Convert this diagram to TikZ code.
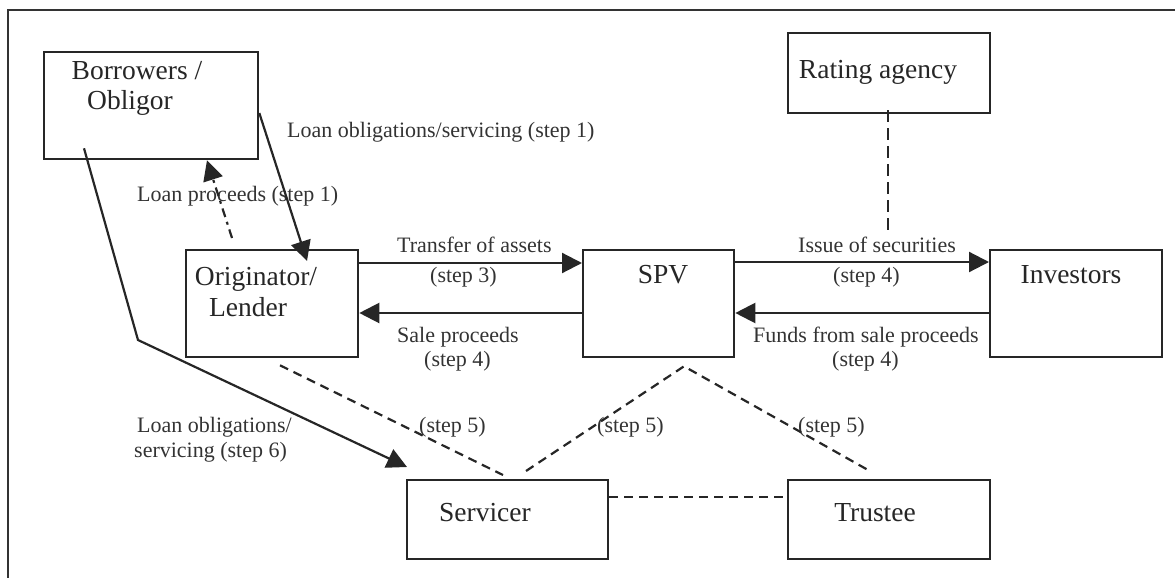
\documentclass[tikz,border=0pt]{standalone}
\usepackage{fontspec}
\setmainfont{Liberation Serif}
\usetikzlibrary{arrows.meta}
\begin{document}
\begin{tikzpicture}[x=1pt,y=-1pt,
  box/.style={draw=black!85,line width=2.3pt,rectangle,inner sep=0pt,anchor=north west},
  boxtext/.style={inner sep=0pt,anchor=base,text=black!85,font=\fontsize{27.5}{30}\selectfont},
  lbl/.style={inner sep=0pt,anchor=base west,text=black!80,font=\fontsize{22}{24}\selectfont},
  arr/.style={draw=black!85,line width=2.2pt,-{Triangle[length=20pt,width=20pt]}},
  dash5/.style={draw=black!85,line width=2.2pt,dash pattern=on 9pt off 6pt},
  dashdot/.style={draw=black!85,line width=2.2pt,dash pattern=on 9pt off 5pt on 3pt off 5pt,-{Triangle[length=20pt,width=20pt]}}
]
\useasboundingbox (0,0) rectangle (1175,578);
\draw[black!80,line width=1.5pt] (8,600) -- (8,10) -- (1200,10);

% boxes
\node[box,minimum width=214pt,minimum height=107pt] (bor) at (43,51) {};
\node[box,minimum width=172pt,minimum height=107pt] (orig) at (185,249) {};
\node[box,minimum width=151pt,minimum height=107pt] (spv) at (582,249) {};
\node[box,minimum width=172pt,minimum height=107pt] (inv) at (989,249) {};
\node[box,minimum width=202pt,minimum height=80pt] (rat) at (787,32) {};
\node[box,minimum width=201pt,minimum height=79pt] (serv) at (406,479) {};
\node[box,minimum width=202pt,minimum height=79pt] (trust) at (787,479) {};

% box texts
\node[boxtext] (borA) at (137,80) {Borrowers /};
\node[boxtext] (borB) at (130,110) {Obligor};
\node[boxtext] (origA) at (256,285) {Originator/};
\node[boxtext] (origB) at (248,316) {Lender};
\node[boxtext] (spvT) at (663,283) {SPV};
\node[boxtext] (invT) at (1071,283) {Investors};
\node[boxtext] (ratT) at (878,78) {Rating agency};
\node[boxtext] (servT) at (485,521) {Servicer};
\node[boxtext] (trustT) at (875,521) {Trustee};

% labels
\node[lbl] (l1) at (287,137) {Loan obligations/servicing (step 1)};
\node[lbl] (l2) at (137,201) {Loan proceeds (step 1)};
\node[lbl] (l3) at (397,252) {Transfer of assets};
\node[lbl] (l4) at (430,282) {(step 3)};
\node[lbl] (l5) at (397,342) {Sale proceeds};
\node[lbl] (l6) at (424,366) {(step 4)};
\node[lbl] (l7) at (798,252) {Issue of securities};
\node[lbl] (l8) at (833,282) {(step 4)};
\node[lbl] (l9) at (753,342) {Funds from sale proceeds};
\node[lbl] (l10) at (832,366) {(step 4)};
\node[lbl] (l11) at (419,432) {(step 5)};
\node[lbl] (l12) at (597,432) {(step 5)};
\node[lbl] (l13) at (798,432) {(step 5)};
\node[lbl] (l14) at (137,432) {Loan obligations/};
\node[lbl] (l15) at (134,457) {servicing (step 6)};

% horizontal arrows
\draw[arr] ([yshift=-14pt]orig.north east) -- ([yshift=-14pt]spv.north west);
\draw[arr] ([yshift=-64pt]spv.north west) -- ([yshift=-64pt]orig.north east);
\draw[arr] ([yshift=-13pt]spv.north east) -- ([yshift=-13pt]inv.north west);
\draw[arr] ([yshift=-64pt]inv.north west) -- ([yshift=-64pt]spv.north east);

% borrower <-> originator
\draw[arr] ([yshift=-62pt]bor.north east) -- ([xshift=122pt,yshift=-12pt]orig.north west);
\draw[dashdot] ([xshift=47pt,yshift=11pt]orig.north west) -- ([xshift=164pt]bor.south west);

% borrower -> servicer
\coordinate (bend) at (138,340);
\draw[arr] ([xshift=41pt,yshift=12pt]bor.south west) -- (bend) -- ([xshift=1pt,yshift=12pt]serv.north west);

% dashed links
\draw[dash5] ([xshift=95pt,yshift=-7pt]orig.south west) -- ([xshift=97pt,yshift=4pt]serv.north west);
\draw[dash5] ([xshift=120pt,yshift=8pt]serv.north west) -- ([xshift=102pt,yshift=-8pt]spv.south west) -- ([xshift=81pt,yshift=9pt]trust.north west);
\draw[dash5] ([yshift=-18pt]serv.north east) -- ([yshift=-18pt]trust.north west);
\coordinate (ratEnd) at (888,230);
\draw[draw=black!85,line width=2.2pt,dash pattern=on 12pt off 6pt] ([xshift=101pt,yshift=4pt]rat.south west) -- (ratEnd);
\end{tikzpicture}
\end{document}
